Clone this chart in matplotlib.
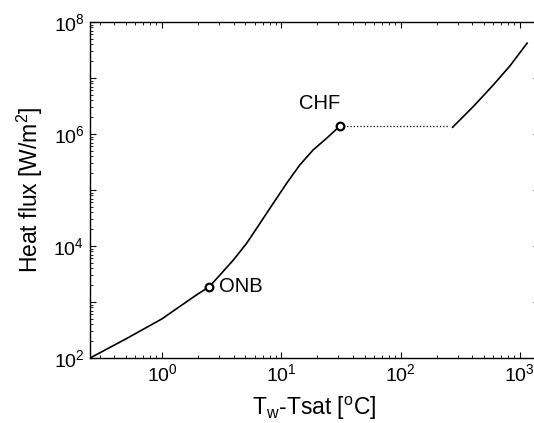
import matplotlib
matplotlib.use('Agg')
import matplotlib.pyplot as plt
from matplotlib.ticker import FixedLocator, LogLocator, NullFormatter

plt.rcParams['font.family'] = ['Liberation Sans', 'DejaVu Sans']
plt.rcParams['mathtext.default'] = 'regular'

# boiling curve
nucleate_dt = [0.25, 0.51, 1.0, 1.42, 1.95, 2.49, 3.06, 3.96, 5.13, 6.63, 8.57, 11.1, 14.3, 18.5, 24.0, 31.0]
nucleate_q = [100, 225, 500, 840, 1340, 1870, 3.03e3, 5.6e3, 1.12e4, 2.54e4, 5.8e4, 1.32e5, 2.8e5, 5.2e5, 8.4e5, 1.39e6]

transition_dt = [31.0, 255]
transition_q = [1.39e6, 1.39e6]

film_dt = [273, 407, 598, 826, 1150]
film_q = [1.32e6, 3.1e6, 7.5e6, 1.65e7, 4.2e7]

onb = (2.49, 1870)
chf = (31.0, 1.39e6)

fig = plt.figure(figsize=(5.34, 4.23), dpi=100)
W, H = 534, 423
ax = fig.add_axes([90 / W, (H - 358) / H, (539 - 90) / W, (358 - 22) / H])

ax.plot(nucleate_dt, nucleate_q, color='black', lw=1.2)
ax.plot(transition_dt, transition_q, color='black', lw=0.9, ls=':')
ax.plot(film_dt, film_q, color='black', lw=1.2)
ax.plot(*onb, 'o', mfc='white', mec='black', mew=1.6, ms=5.5)
ax.plot(*chf, 'o', mfc='white', mec='black', mew=1.6, ms=5.5)

ax.text(3.0, onb[1], 'ONB', fontsize=14.5, ha='left', va='center')
ax.text(21, 3.5e6, 'CHF', fontsize=14.5, ha='center', va='center')

ax.set_xscale('log')
ax.set_yscale('log')
ax.set_xlim(10 ** -0.603, 10 ** 3.16)
ax.set_ylim(1e2, 1e8)

ax.xaxis.set_major_locator(FixedLocator([1, 10, 100, 1000]))
ax.set_xticklabels(['$10^0$', '$10^1$', '$10^2$', '$10^3$'])
ax.xaxis.set_minor_locator(LogLocator(base=10, subs=range(2, 10)))
ax.xaxis.set_minor_formatter(NullFormatter())

yt = [1e2, 1e3, 1e4, 1e5, 1e6, 1e7, 1e8]
ax.yaxis.set_major_locator(FixedLocator(yt))
ax.set_yticklabels(['$10^2$', '', '$10^4$', '', '$10^6$', '', '$10^8$'])
ax.yaxis.set_minor_locator(LogLocator(base=10, subs=range(2, 10)))
ax.yaxis.set_minor_formatter(NullFormatter())

ax.tick_params(which='both', direction='in', top=True, right=True, labelsize=14)
ax.tick_params(which='major', length=4.5, width=0.8, pad=4)
ax.tick_params(which='minor', length=2.2, width=0.6)
for s in ax.spines.values():
    s.set_linewidth(1.0)

ax.set_xlabel('T$_w$-Tsat [$^o$C]', fontsize=16.5, labelpad=7)
ax.set_ylabel('Heat flux [W/m$^2$]', fontsize=16.5, labelpad=6)

fig.savefig('out.png', dpi=100)
